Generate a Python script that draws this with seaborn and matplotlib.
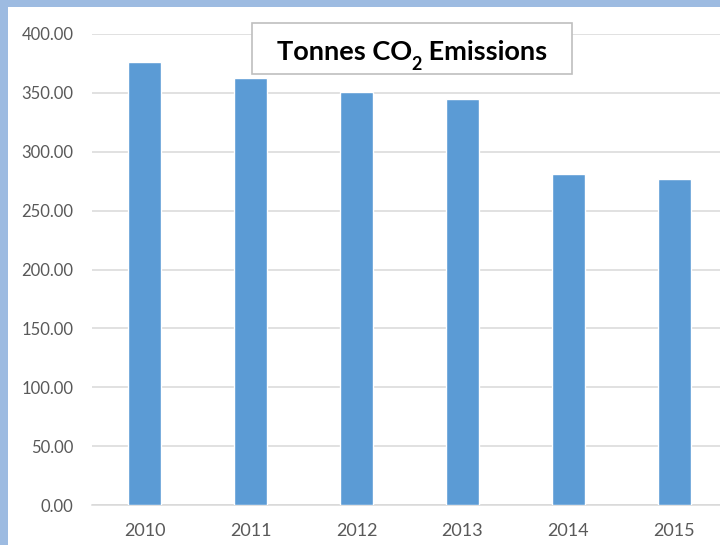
import matplotlib
matplotlib.use("Agg")
import matplotlib.pyplot as plt
from matplotlib.patches import Rectangle
import seaborn as sns
import pandas as pd

years = ["2010", "2011", "2012", "2013", "2014", "2015"]
emissions = [375.8, 362.6, 350.6, 344.7, 281.0, 276.5]
y_ticks = [0, 50, 100, 150, 200, 250, 300, 350, 400]
title_parts = ["Tonnes CO", "2", " Emissions"]

sns.set_theme(style="white")
plt.rcParams["font.family"] = ["Lato", "DejaVu Sans"]

W, H = 720, 545
fig = plt.figure(figsize=(W / 100, H / 100), dpi=100)
fig.patch.set_facecolor("white")

# light blue frame strips (left and top)
border = "#9DBBE1"
fig.patches.append(Rectangle((0, 0), 8 / W, 1, transform=fig.transFigure,
                             facecolor=border, edgecolor="none", zorder=0))
fig.patches.append(Rectangle((0, 1 - 7 / H), 1, 7 / H, transform=fig.transFigure,
                             facecolor=border, edgecolor="none", zorder=0))

left, right, top, bottom = 91.5, 727.5, 34, 505
ax = fig.add_axes([left / W, 1 - bottom / H, (right - left) / W, (bottom - top) / H])
ax.set_facecolor("none")

df = pd.DataFrame({"Year": years, "Tonnes": emissions})
sns.barplot(data=df, x="Year", y="Tonnes", color="#5B9BD5", saturation=1,
            width=0.31, ax=ax, zorder=3)

ax.set_xlim(-0.5, 5.5)
ax.set_ylim(0, 400)
ax.set_yticks(y_ticks)
ax.set_yticklabels([f"{v:.2f}" for v in y_ticks])
ax.set_xlabel("")
ax.set_ylabel("")
ax.yaxis.grid(True, color="#D9D9D9", linewidth=1.1, zorder=0)
ax.set_axisbelow(True)
for s in ["top", "right", "left"]:
    ax.spines[s].set_visible(False)
ax.spines["bottom"].set_color("#D9D9D9")
ax.spines["bottom"].set_linewidth(1.1)
ax.tick_params(axis="both", length=0, labelcolor="#595959")
ax.tick_params(axis="y", pad=13, labelsize=12)
ax.tick_params(axis="x", pad=13, labelsize=13)

# title box
bx0, bx1, by0, by1 = 252, 572, 23, 74
fig.patches.append(Rectangle((bx0 / W, 1 - by1 / H), (bx1 - bx0) / W, (by1 - by0) / H,
                             transform=fig.transFigure, facecolor="white",
                             edgecolor="#BFBFBF", linewidth=1.2, zorder=5))

# title composed of pieces so the subscript can sit low like the reference
base_y = 59.5
sizes = [19.5, 13, 19.5]
drops = [0, 10, 0]
texts = []
for part, fs in zip(title_parts, sizes):
    texts.append(fig.text(0, 0, part, fontsize=fs, fontweight="bold", color="black",
                          ha="left", va="baseline", zorder=6))
renderer = fig.canvas.get_renderer()
widths = [t.get_window_extent(renderer).width for t in texts]
total = sum(widths)
x = (bx0 + bx1) / 2 - total / 2
for t, w, d in zip(texts, widths, drops):
    t.set_position((x / W, 1 - (base_y + d) / H))
    x += w

fig.savefig("out.png", dpi=100)
